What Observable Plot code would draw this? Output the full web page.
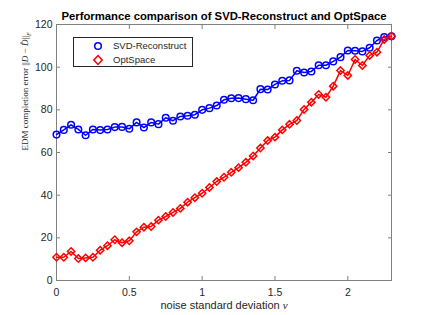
<!DOCTYPE html>
<html>
<head>
<meta charset="utf-8">
<script src="https://cdn.jsdelivr.net/npm/d3@7"></script>
<script src="https://cdn.jsdelivr.net/npm/@observablehq/plot@0.6"></script>
<style>
  html, body { margin: 0; padding: 0; background: #fff; }
  #wrap { position: relative; width: 432px; height: 315px; }
  #legend { position: absolute; left: 73px; top: 37px; width: 120px; height: 30px; box-sizing: border-box;
    border: 1px solid #262626; background: #fff; font: 9.5px "Liberation Sans", Arial, sans-serif; color: #262626; }
  #legend .row { position: absolute; left: 0; height: 14px; }
  #legend svg { position: absolute; left: 19px; }
  #legend span { position: absolute; left: 39px; top: 1px; white-space: nowrap; }
</style>
</head>
<body>
<div id="wrap"></div>
<script>
const noise = [0, 0.05, 0.1, 0.15, 0.2, 0.25, 0.3, 0.35, 0.4, 0.45, 0.5, 0.55, 0.6, 0.65, 0.7, 0.75, 0.8, 0.85, 0.9, 0.95,
  1.0, 1.05, 1.1, 1.15, 1.2, 1.25, 1.3, 1.35, 1.4, 1.45, 1.5, 1.55, 1.6, 1.65, 1.7, 1.75, 1.8, 1.85, 1.9, 1.95,
  2.0, 2.05, 2.1, 2.15, 2.2, 2.25, 2.3];
const svdReconstruct = [68.4, 70.6, 73.0, 70.8, 68.1, 70.8, 70.5, 70.8, 71.9, 72.0, 71.1, 74.1, 71.7, 74.1, 73.3, 76.3, 74.9, 76.9, 77.2, 77.7,
  80.0, 80.8, 82.0, 84.7, 85.4, 85.5, 85.0, 84.5, 89.7, 89.5, 91.9, 93.6, 93.8, 98.3, 97.5, 98.0, 100.9, 100.9, 102.7, 104.7,
  107.8, 107.7, 107.4, 109.1, 112.5, 114.1, 114.5];
const optSpace = [10.9, 10.9, 13.6, 10.3, 10.6, 10.9, 14.2, 16.3, 19.1, 17.7, 18.6, 22.8, 25.0, 25.3, 28.3, 30.0, 31.9, 33.8, 36.7, 38.8,
  40.9, 43.6, 46.4, 48.4, 50.7, 52.9, 55.4, 58.4, 62.1, 65.6, 67.2, 70.6, 73.2, 75.0, 80.2, 83.6, 87.2, 85.9, 91.1, 98.4,
  96.1, 103.6, 100.8, 105.5, 107.0, 113.0, 114.5];
const xTicks = [0, 0.5, 1, 1.5, 2];
const yTicks = [0, 20, 40, 60, 80, 100, 120];
const seriesNames = ["SVD-Reconstruct", "OptSpace"];
const titleText = "Performance comparison of SVD-Reconstruct and OptSpace";
const xLabel = "noise standard deviation ν";
const yLabel = "EDM completion error ||D − D̂||F";

const svdData = noise.map((x, i) => ({x, y: svdReconstruct[i]}));
const optData = noise.map((x, i) => ({x, y: optSpace[i]}));

const axisColor = "#262626";
const chart = Plot.plot({
  width: 432,
  height: 315,
  marginLeft: 56,
  marginRight: 41,
  marginTop: 24,
  marginBottom: 35,
  style: {fontFamily: "'Liberation Sans', Arial, sans-serif", fontSize: "10.5px", color: axisColor, background: "#fff"},
  x: {domain: [0, 2.3]},
  y: {domain: [0, 120]},
  marks: [
    Plot.frame({stroke: "#808080", strokeWidth: 1}),
    Plot.axisX(xTicks, {anchor: "bottom", tickSize: -4, tickPadding: 12, label: null, stroke: "#808080", fill: axisColor, tickFormat: d => String(d)}),
    Plot.axisX(xTicks, {anchor: "top", tickSize: -4, label: null, stroke: "#808080", tickFormat: () => ""}),
    Plot.axisY(yTicks, {anchor: "left", tickSize: -4, tickPadding: 8, label: null, stroke: "#808080", fill: axisColor}),
    Plot.axisY(yTicks, {anchor: "right", tickSize: -4, label: null, stroke: "#808080", tickFormat: () => ""}),
    Plot.line(svdData, {x: "x", y: "y", stroke: "#0000ff", strokeWidth: 1.5}),
    Plot.dot(svdData, {x: "x", y: "y", stroke: "#0000ff", fill: "none", r: 3.3, strokeWidth: 1.5}),
    Plot.line(optData, {x: "x", y: "y", stroke: "#ff0000", strokeWidth: 1.5}),
    Plot.dot(optData, {x: "x", y: "y", stroke: "#ff0000", fill: "none", symbol: "diamond2", r: 3.3, strokeWidth: 1.5}),
    Plot.text([titleText], {frameAnchor: "top", dy: -5, lineAnchor: "bottom", fontWeight: "bold", fontSize: 11.3, fill: "#000"}),
    Plot.text([xLabel], {frameAnchor: "bottom", dy: 21, lineAnchor: "top", fontSize: 11, fill: axisColor, className: "xlab"}),
    Plot.text([yLabel], {frameAnchor: "left", dx: -31, dy: -2, rotate: -90, fontSize: 9, fill: axisColor,
      fontFamily: "'Liberation Serif', 'DejaVu Serif', serif", className: "ylab"})
  ]
});

const wrap = document.getElementById("wrap");
wrap.appendChild(chart);

const ns = "http://www.w3.org/2000/svg";
function ts(parent, txt, attrs = {}) {
  const t = document.createElementNS(ns, "tspan");
  t.textContent = txt;
  for (const k in attrs) t.setAttribute(k, attrs[k]);
  parent.appendChild(t);
  return t;
}
const yl = chart.querySelector(".ylab text");
if (yl) {
  yl.textContent = "";
  ts(yl, "EDM completion error ||");
  ts(yl, "D", {"font-style": "italic"});
  ts(yl, " − ");
  ts(yl, "D̂", {"font-style": "italic"});
  ts(yl, "||");
  ts(yl, "F", {"font-style": "italic", "font-size": "6.5px", dy: "2.5"});
}
const xl = chart.querySelector(".xlab text");
if (xl) {
  xl.textContent = "";
  ts(xl, "noise standard deviation ");
  ts(xl, "ν", {"font-style": "italic", "font-family": "'Liberation Serif', serif"});
}

const legend = document.createElement("div");
legend.id = "legend";
const rows = [
  {name: seriesNames[0], color: "#0000ff", shape: "circle"},
  {name: seriesNames[1], color: "#ff0000", shape: "diamond"}
];
rows.forEach((r, i) => {
  const row = document.createElement("div");
  row.className = "row";
  row.style.top = (i === 0 ? 1 : 15) + "px";
  row.style.width = "100%";
  const g = d3.create("svg").attr("width", 10).attr("height", 12).style("top", "1px");
  if (r.shape === "circle") {
    g.append("circle").attr("cx", 5).attr("cy", 6).attr("r", 3.3).attr("fill", "none").attr("stroke", r.color).attr("stroke-width", 1.5);
  } else {
    g.append("path").attr("d", "M5,1.6L9.1,6L5,10.4L0.9,6Z").attr("fill", "none").attr("stroke", r.color).attr("stroke-width", 1.5);
  }
  row.appendChild(g.node());
  const s = document.createElement("span");
  s.textContent = r.name;
  row.appendChild(s);
  legend.appendChild(row);
});
wrap.appendChild(legend);
</script>
</body>
</html>
